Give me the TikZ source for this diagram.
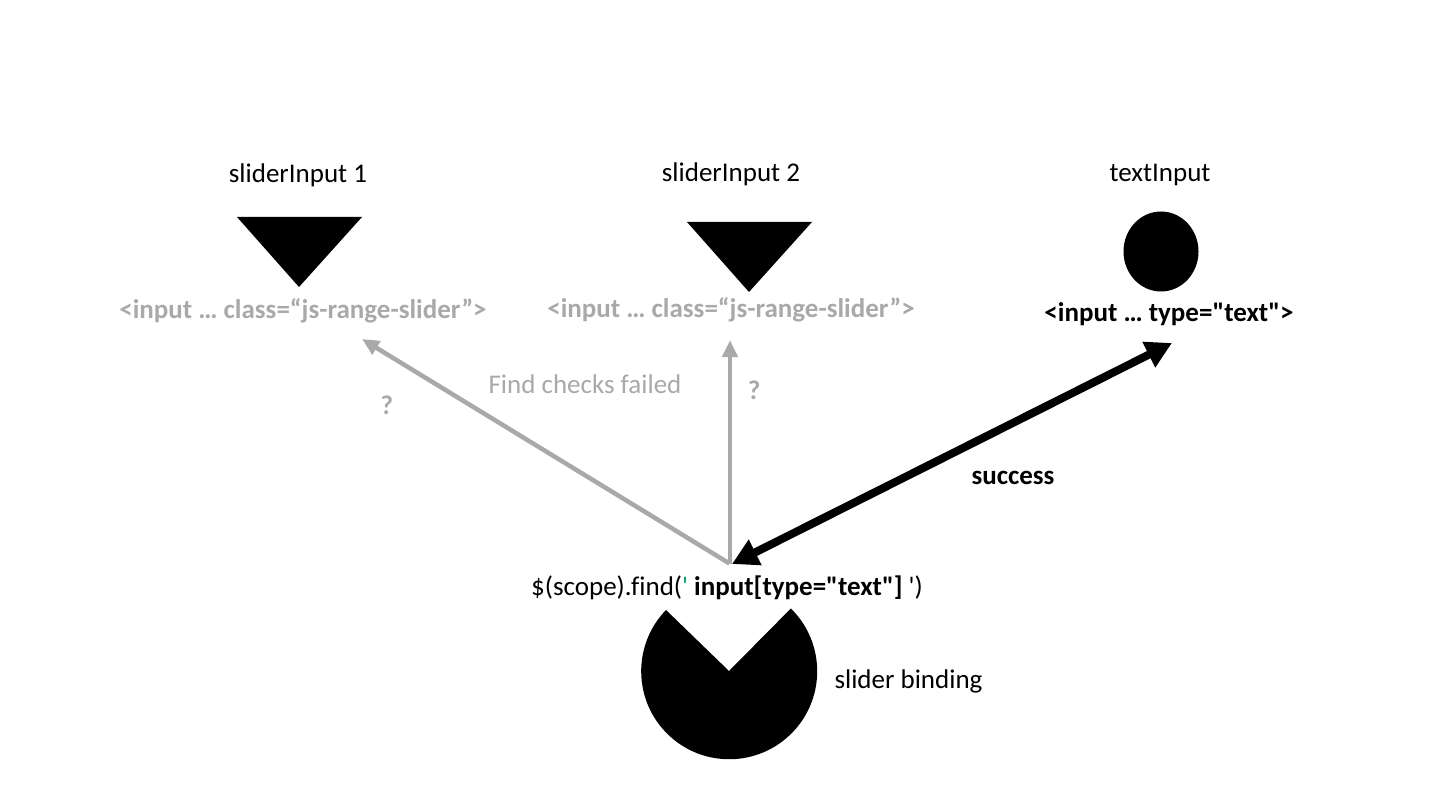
\documentclass[tikz,border=0pt]{standalone}
\usepackage{fontspec}
\setmainfont{Carlito}[Ligatures={TeXOff,CommonOff}]
\usetikzlibrary{arrows.meta}
\definecolor{failgray}{HTML}{A9A9A9}
\definecolor{quotegreen}{HTML}{00A070}
\tikzset{
  every node/.style={inner sep=0pt,outer sep=0pt,font=\fontsize{27}{32}\selectfont},
  faded/.style={text=failgray},
  fadedbold/.style={text=failgray,font=\fontsize{27}{32}\selectfont\bfseries},
  strong/.style={font=\fontsize{27}{32}\selectfont\bfseries},
  failarrow/.style={draw=failgray,line width=4.5pt,-{Triangle[length=17pt,width=15pt]}},
  okarrow/.style={draw=black,line width=8pt,{Triangle[length=26pt,width=27pt]}-{Triangle[length=26pt,width=27pt]}},
  blob/.style={fill=black,draw=none}
}
\begin{document}
\begin{tikzpicture}[x=1pt,y=-1pt]
\useasboundingbox (0,0) rectangle (1440,810);
\fill[white] (0,0) rectangle (1440,810);
\node (s1) at (298,175.5) {sliderInput 1};
\node (s2) at (731,174.5) {sliderInput 2};
\node (ti) at (1160,175.5) {textInput};
\fill[blob] (237,217) -- (362,217) -- (299,287) -- cycle;
\fill[blob] (687,222) -- (812,222) -- (749,292) -- cycle;
\fill[blob] (1161,251.5) ellipse [x radius=37.5,y radius=40];
\node[fadedbold] (c1) at (303,310.5) {<input … class=“js-range-slider”>};
\node[fadedbold] (c2) at (731,309.5) {<input … class=“js-range-slider”>};
\node[strong] (c3) at (1169,314.5) {<input … type="text">};
\node[faded] (fail) at (585,384) {Find checks failed};
\node[fadedbold] (q1) at (387,405.5) {?};
\node[fadedbold] (q2) at (754,390.5) {?};
\node[strong] (ok) at (1013,478) {success};
\node (find) at (727,587.5) {\$(scope).find(\textcolor{quotegreen}{'} \textbf{input[type="text"]} ')};
\node (sb) at (908.5,681.5) {slider binding};
\fill[blob] (729,671) -- (666,610) arc[start angle=224.1,end angle=-45.5,x radius=88,y radius=88] -- cycle;
\coordinate (src) at (729.5,563.5);
\coordinate (srcb) at (730,563.5);
\coordinate (t1) at (362,339);
\coordinate (t2) at (730,340);
\coordinate (t3) at (1172,343);
\coordinate (src3) at (732,564);
\draw[failarrow] (src) -- (t1);
\draw[failarrow] (srcb) -- (t2);
\draw[okarrow] (src3) -- (t3);
\end{tikzpicture}
\end{document}
